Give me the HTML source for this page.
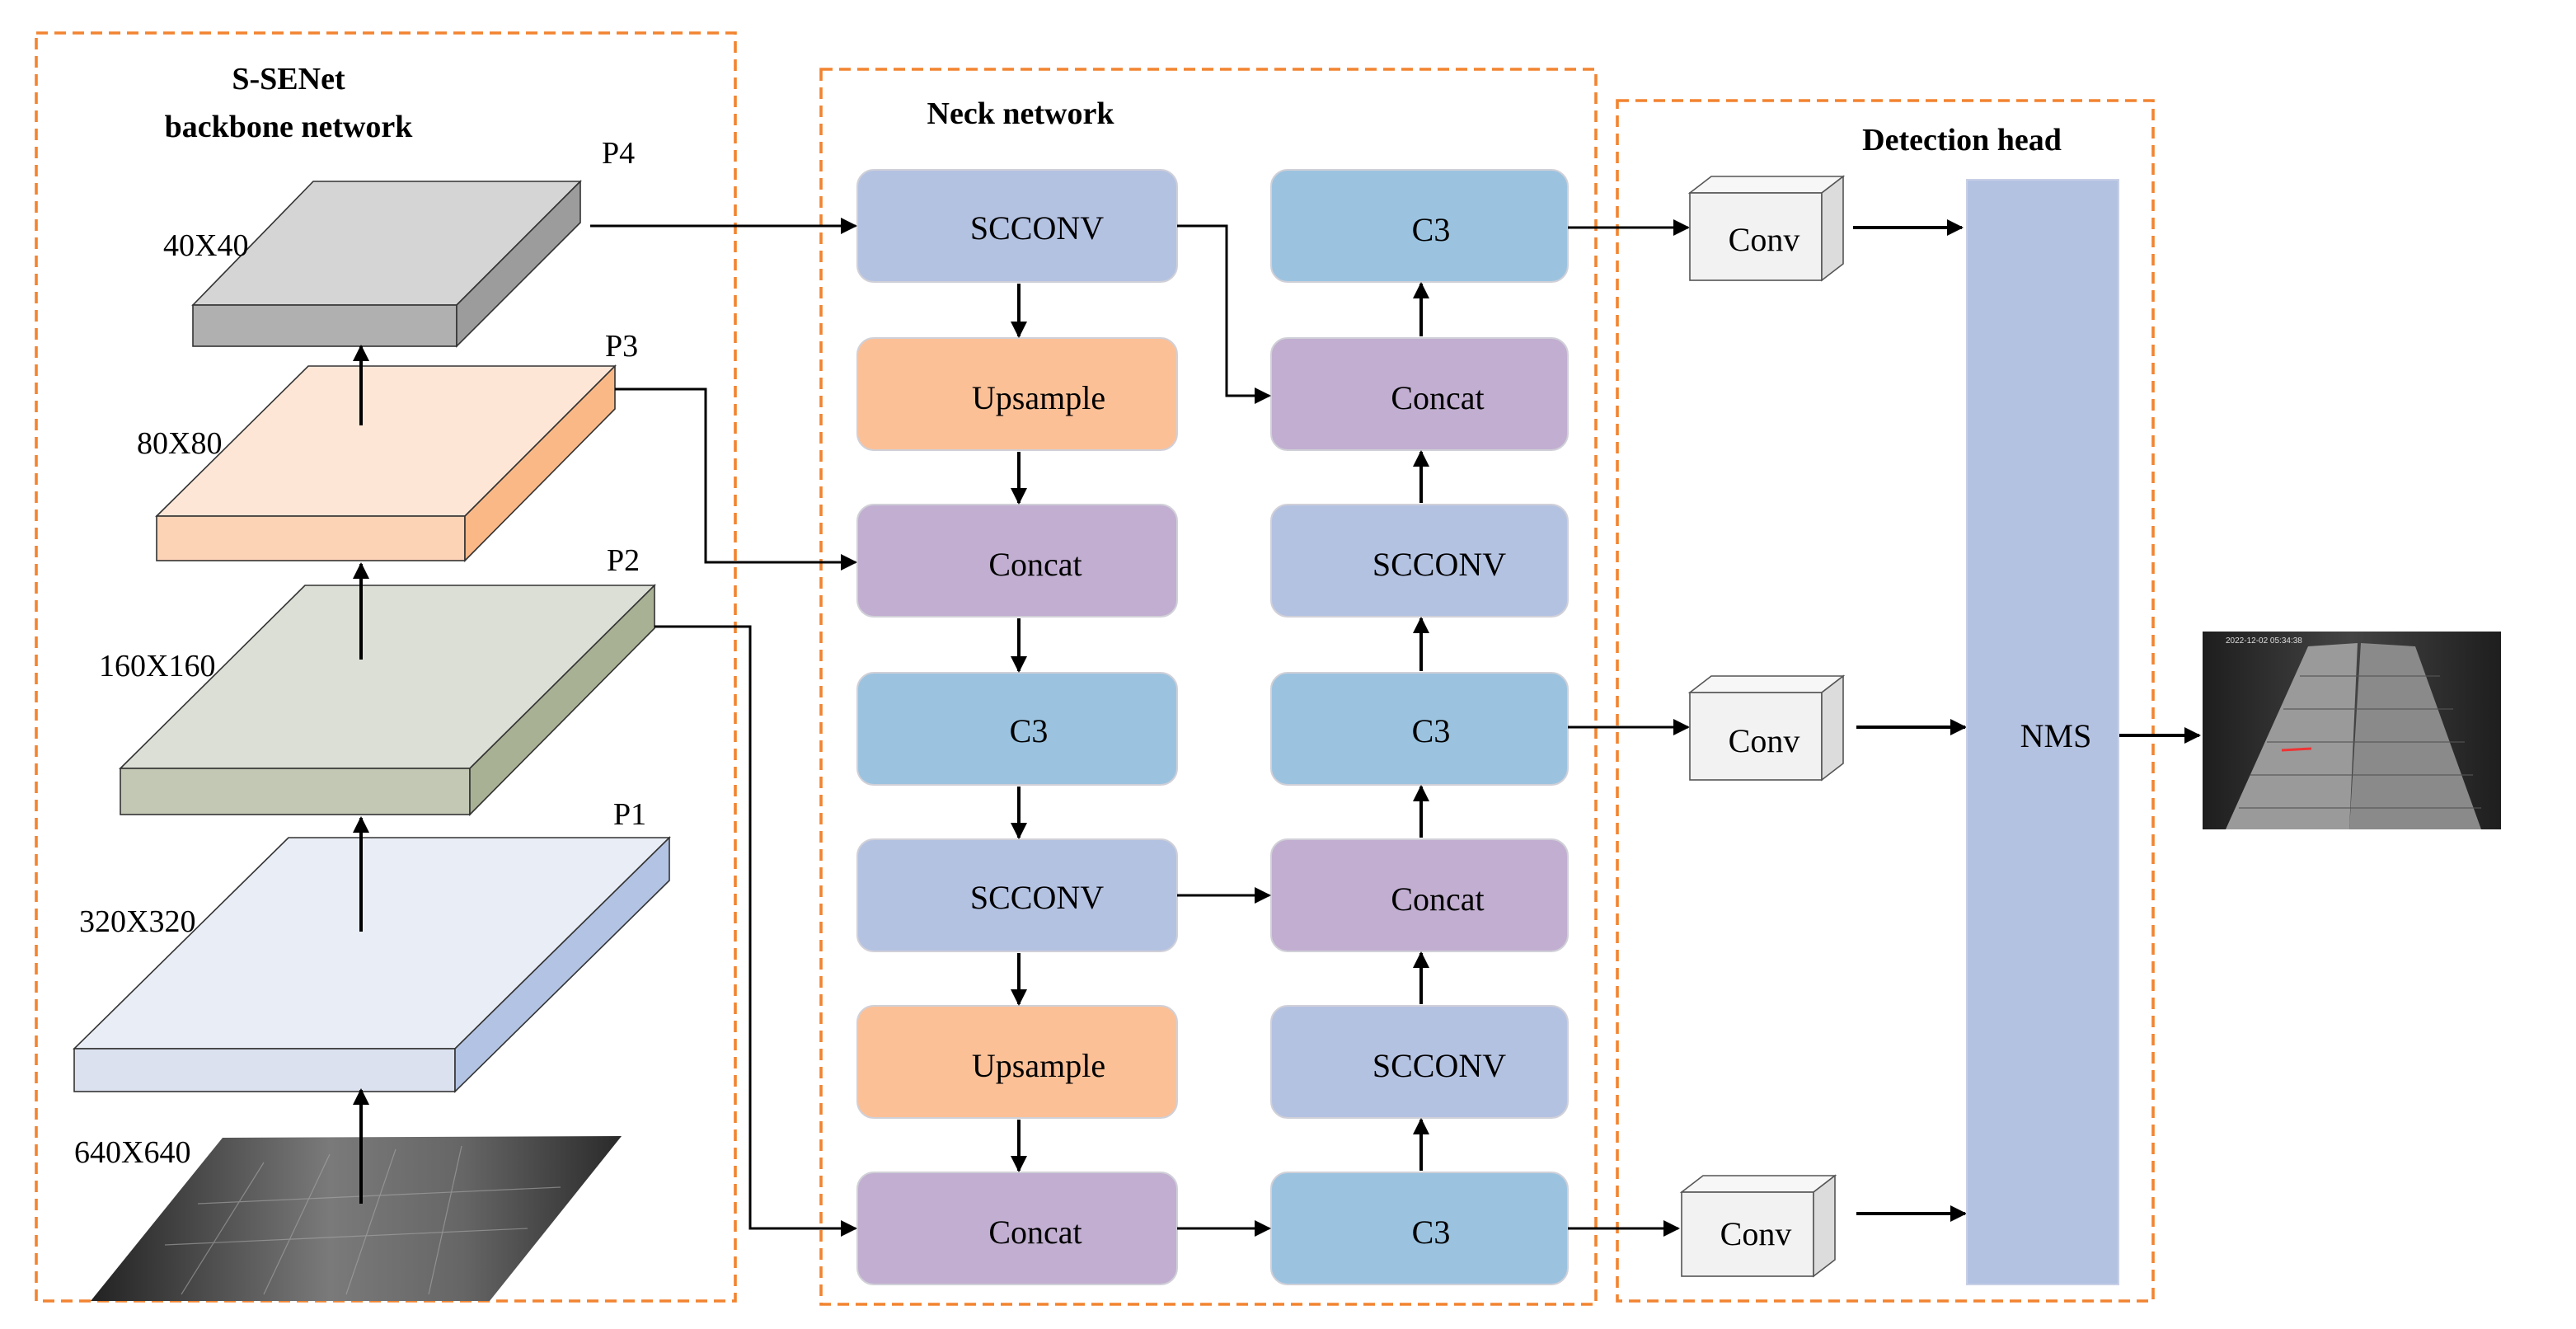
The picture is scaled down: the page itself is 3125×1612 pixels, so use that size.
<!DOCTYPE html>
<html><head><meta charset="utf-8"><style>html,body{margin:0;padding:0;background:#fff}svg{display:block}</style></head>
<body>
<svg width="3125" height="1612" viewBox="0 0 1562.5 806" xmlns="http://www.w3.org/2000/svg" font-family="'Liberation Serif', serif">
<defs>
<marker id="a" markerWidth="10" markerHeight="10" refX="9" refY="5" orient="auto" markerUnits="userSpaceOnUse"><path d="M0,0 L10,5 L0,10 z" fill="#000"/></marker>
<linearGradient id="g1" x1="0" y1="0" x2="1" y2="0"><stop offset="0" stop-color="#222"/><stop offset=".45" stop-color="#7a7a7a"/><stop offset=".7" stop-color="#666"/><stop offset="1" stop-color="#2a2a2a"/></linearGradient>
<linearGradient id="g2" x1="0" y1="0" x2="1" y2="0"><stop offset="0" stop-color="#1e1e1e"/><stop offset=".5" stop-color="#444"/><stop offset="1" stop-color="#1e1e1e"/></linearGradient>
</defs>
<g fill="none" stroke="#f28430" stroke-width="1.8" stroke-dasharray="7,4">
<rect x="22" y="20" width="424" height="769"/>
<rect x="498" y="42" width="470" height="749"/>
<rect x="981" y="61" width="325" height="728"/>
</g>
<g font-weight="bold" font-size="19" text-anchor="middle">
<text x="175" y="54">S-SENet</text>
<text x="175" y="83">backbone network</text>
<text x="619" y="75">Neck network</text>
<text x="1190" y="91">Detection head</text>
</g>
<g stroke="#333" stroke-width="0.8">
<polygon points="117,185 190,110 352,110 277,185" fill="#d5d5d5"/>
<rect x="117" y="185" width="160" height="25" fill="#b0b0b0"/>
<polygon points="277,185 352,110 352,135 277,210" fill="#9c9c9c"/>
<polygon points="95,313 187,222 373,222 282,313" fill="#fee6d6"/>
<rect x="95" y="313" width="187" height="27" fill="#fdd3b5"/>
<polygon points="282,313 373,222 373,248 282,340" fill="#fbb887"/>
<polygon points="73,466 185,355 397,355 285,466" fill="#dcdfd5"/>
<rect x="73" y="466" width="212" height="28" fill="#c2c8b4"/>
<polygon points="285,466 397,355 397,381 285,494" fill="#a9b195"/>
<polygon points="45,636 175,508 406,508 276,636" fill="#e9edf5"/>
<rect x="45" y="636" width="231" height="26" fill="#dbe1ef"/>
<polygon points="276,636 406,508 406,534 276,662" fill="#b3c3e3"/>
</g>
<polygon points="55,789 135,690 377,689 297,789" fill="url(#g1)"/>
<g stroke="#aaa" stroke-width="0.6" opacity="0.6">
<line x1="160" y1="705" x2="110" y2="785"/><line x1="200" y1="700" x2="160" y2="785"/><line x1="240" y1="697" x2="210" y2="785"/><line x1="280" y1="695" x2="260" y2="785"/>
<line x1="120" y1="730" x2="340" y2="720"/><line x1="100" y1="755" x2="320" y2="745"/>
</g>
<g font-size="19" textLength="0">
<text x="99" y="155">40X40</text><text x="83" y="275">80X80</text><text x="60" y="410">160X160</text><text x="48" y="565">320X320</text><text x="45" y="705">640X640</text>
<text x="365" y="99">P4</text><text x="367" y="216">P3</text><text x="368" y="346">P2</text><text x="372" y="500">P1</text>
</g>
<g stroke="#000" stroke-width="2" fill="none" marker-end="url(#a)">
<line x1="219" y1="258" x2="219" y2="210"/>
<line x1="219" y1="400" x2="219" y2="342"/>
<line x1="219" y1="565" x2="219" y2="496"/>
<line x1="219" y1="730" x2="219" y2="661"/>
</g>
<g stroke="#d0d0d8" stroke-width="1">
<rect x="520" y="103" width="194" height="68" rx="10" fill="#b4c2e2"/>
<rect x="520" y="205" width="194" height="68" rx="10" fill="#fcc097"/>
<rect x="520" y="306" width="194" height="68" rx="10" fill="#c1aed0"/>
<rect x="520" y="408" width="194" height="68" rx="10" fill="#9bc3e0"/>
<rect x="520" y="509" width="194" height="68" rx="10" fill="#b4c2e2"/>
<rect x="520" y="610" width="194" height="68" rx="10" fill="#fcc097"/>
<rect x="520" y="711" width="194" height="68" rx="10" fill="#c1aed0"/>
<rect x="771" y="103" width="180" height="68" rx="10" fill="#9bc3e0"/>
<rect x="771" y="205" width="180" height="68" rx="10" fill="#c1aed0"/>
<rect x="771" y="306" width="180" height="68" rx="10" fill="#b4c2e2"/>
<rect x="771" y="408" width="180" height="68" rx="10" fill="#9bc3e0"/>
<rect x="771" y="509" width="180" height="68" rx="10" fill="#c1aed0"/>
<rect x="771" y="610" width="180" height="68" rx="10" fill="#b4c2e2"/>
<rect x="771" y="711" width="180" height="68" rx="10" fill="#9bc3e0"/>
</g>
<g font-size="20" text-anchor="middle">
<text x="629" y="145">SCCONV</text><text x="630" y="248">Upsample</text><text x="628" y="349">Concat</text><text x="624" y="450">C3</text><text x="629" y="551">SCCONV</text><text x="630" y="653">Upsample</text><text x="628" y="754">Concat</text>
<text x="868" y="146">C3</text><text x="872" y="248">Concat</text><text x="873" y="349">SCCONV</text><text x="868" y="450">C3</text><text x="872" y="552">Concat</text><text x="873" y="653">SCCONV</text><text x="868" y="754">C3</text>
</g>
<g stroke="#000" stroke-width="2" fill="none" marker-end="url(#a)">
<line x1="618" y1="172" x2="618" y2="204"/><line x1="618" y1="274" x2="618" y2="305"/><line x1="618" y1="375" x2="618" y2="407"/><line x1="618" y1="477" x2="618" y2="508"/><line x1="618" y1="578" x2="618" y2="609"/><line x1="618" y1="679" x2="618" y2="710"/>
<line x1="862" y1="204" x2="862" y2="172"/><line x1="862" y1="305" x2="862" y2="274"/><line x1="862" y1="407" x2="862" y2="375"/><line x1="862" y1="508" x2="862" y2="477"/><line x1="862" y1="609" x2="862" y2="578"/><line x1="862" y1="710" x2="862" y2="679"/>
<polyline points="358,137 519,137" stroke-width="1.5"/>
<polyline points="373,236 428,236 428,341 519,341" stroke-width="1.5"/>
<polyline points="397,380 455,380 455,745 519,745" stroke-width="1.5"/>
<polyline points="714,137 744,137 744,240 770,240" stroke-width="1.5"/>
<polyline points="714,543 770,543" stroke-width="1.5"/>
<polyline points="714,745 770,745" stroke-width="1.5"/>
<polyline points="951,138 1024,138" stroke-width="1.5"/>
<polyline points="951,441 1024,441" stroke-width="1.5"/>
<polyline points="951,745 1018,745" stroke-width="1.5"/>
<polyline points="1124,138 1190,138"/>
<polyline points="1126,441 1192,441"/>
<polyline points="1126,736 1192,736"/>
<polyline points="1285,446 1334,446"/>
</g>
<g stroke="#555" stroke-width="0.8">
<polygon points="1025,117 1038,107 1118,107 1105,117" fill="#f7f7f7"/><rect x="1025" y="117" width="80" height="53" fill="#f2f2f2"/><polygon points="1105,117 1118,107 1118,160 1105,170" fill="#dcdcdc"/>
<polygon points="1025,420 1038,410 1118,410 1105,420" fill="#f7f7f7"/><rect x="1025" y="420" width="80" height="53" fill="#f2f2f2"/><polygon points="1105,420 1118,410 1118,463 1105,473" fill="#dcdcdc"/>
<polygon points="1020,723 1033,713 1113,713 1100,723" fill="#f7f7f7"/><rect x="1020" y="723" width="80" height="51" fill="#f2f2f2"/><polygon points="1100,723 1113,713 1113,764 1100,774" fill="#dcdcdc"/>
</g>
<g font-size="20" text-anchor="middle">
<text x="1070" y="152">Conv</text><text x="1070" y="456">Conv</text><text x="1065" y="755">Conv</text>
</g>
<rect x="1193" y="109" width="92" height="670" fill="#b4c2e2" stroke="#c8d0e6" stroke-width="1"/>
<text x="1247" y="453" font-size="20" text-anchor="middle">NMS</text>
<rect x="1336" y="383" width="181" height="120" fill="url(#g2)"/>
<polygon points="1350,503 1400,392 1430,390 1425,503" fill="#9a9a9a"/>
<polygon points="1425,503 1432,390 1465,392 1505,503" fill="#8a8a8a"/>
<g stroke="#555" stroke-width="0.6" opacity="0.9"><line x1="1395" y1="410" x2="1480" y2="410"/><line x1="1385" y1="430" x2="1488" y2="430"/><line x1="1375" y1="450" x2="1495" y2="450"/><line x1="1365" y1="470" x2="1500" y2="470"/><line x1="1358" y1="490" x2="1505" y2="490"/></g>
<text x="1350" y="390" font-size="5" fill="#ddd" font-family="'Liberation Sans', sans-serif">2022-12-02 05:34:38</text>
<line x1="1384" y1="455" x2="1402" y2="454" stroke="#e33" stroke-width="1.5"/>
</svg>
</body></html>
